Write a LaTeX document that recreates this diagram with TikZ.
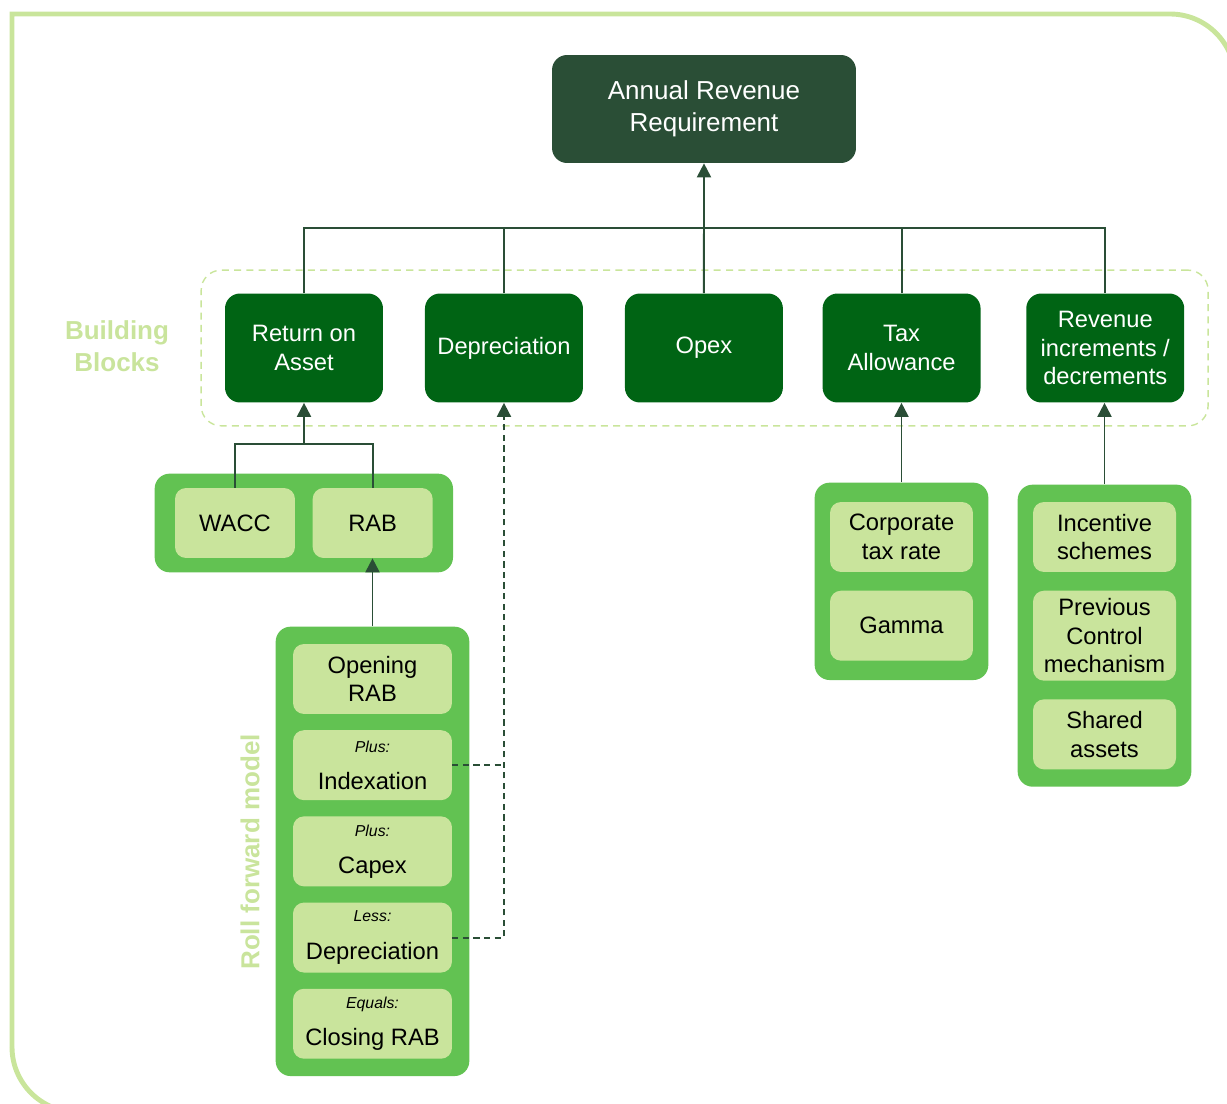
\documentclass[tikz,border=0pt]{standalone}
\usepackage{fontspec}
\setmainfont{Liberation Sans}
\usetikzlibrary{arrows.meta, positioning, fit, backgrounds}

\definecolor{framegreen}{HTML}{C9E59B}
\definecolor{topgreen}{HTML}{2A4E36}
\definecolor{blockgreen}{HTML}{006414}
\definecolor{panelgreen}{HTML}{62C252}
\definecolor{palegreen}{HTML}{C9E49C}
\definecolor{wiregreen}{HTML}{2A4E36}

\newcommand{\boxfont}{\fontsize{13.5}{16.2}\selectfont}
\newcommand{\tagline}[1]{{\fontsize{9}{10}\selectfont\itshape #1}\\[5pt]}

\begin{document}
\begin{tikzpicture}[x=0.02cm, y=-0.02cm, >={Triangle[length=8pt,width=8pt]}, node distance=4cm,
  topbox/.style={fill=topgreen, text=white, rounded corners=0.3cm, minimum width=6.08cm, minimum height=2.16cm, align=center, font=\fontsize{14.8}{18}\selectfont},
  block/.style={fill=blockgreen, text=white, rounded corners=0.3cm, minimum width=3.16cm, minimum height=2.18cm, align=center, font=\boxfont, inner sep=2pt},
  leaf/.style={fill=palegreen, rounded corners=0.22cm, minimum height=1.4cm, align=center, font=\boxfont, inner sep=1pt},
  panel/.style={fill=panelgreen, rounded corners=0.3cm},
  wire/.style={draw=wiregreen, line width=1.1pt},
  dashwire/.style={wire, dash pattern=on 3.5pt off 2.5pt},
  sidetext/.style={text=palegreen, font=\bfseries\fontsize{14.8}{18}\selectfont, align=center}]
  \useasboundingbox (0,0) rectangle (1227,1104);

  % outer frame
  \draw[framegreen, line width=2.8pt] (12,1047) -- (12,14) -- (1170,14) arc[start angle=90, end angle=0, radius=1.3cm] -- (1235,1150);
  \draw[framegreen, line width=2.8pt] (12,1047) arc[start angle=180, end angle=270, radius=1.3cm] -- (1230,1112);

  \node[topbox] (arr) at (704,109) {Annual Revenue\\Requirement};

  % building blocks
  \node[block] (roa) at (304,348) {Return on\\Asset};
  \node[block, right of=roa] (dep) {Depreciation};
  \node[block, right of=dep] (opex) {Opex};
  \node[block, right=0.78cm of opex] (tax) {Tax\\Allowance};
  \node[block, right=0.9cm of tax] (rev) {Revenue\\increments /\\decrements};

  \node[sidetext] (bbl) at (117,346) {Building\\Blocks};
  \node[sidetext, rotate=90] (rfl) at (250,852) {Roll forward model};

  \node[leaf, minimum width=2.4cm] (wacc) at (235,523) {WACC};
  \node[leaf, minimum width=2.4cm, right=0.34cm of wacc] (rab) {RAB};

  % roll forward
  \node[leaf, minimum width=3.18cm] (open) at (372.5,679) {Opening\\RAB};
  \node[leaf, minimum width=3.18cm, below=0.31cm of open] (idx) {\tagline{Plus:}Indexation};
  \node[leaf, minimum width=3.18cm, below=0.31cm of idx] (capex) {\tagline{Plus:}Capex};
  \node[leaf, minimum width=3.18cm, below=0.31cm of capex] (less) {\tagline{Less:}Depreciation};
  \node[leaf, minimum width=3.18cm, below=0.31cm of less] (close) {\tagline{Equals:}Closing RAB};

  \node[leaf, minimum width=2.86cm] (corp) at (901.5,537) {Corporate\\tax rate};
  \node[leaf, minimum width=2.86cm, below=0.36cm of corp] (gamma) {Gamma};

  \node[leaf, minimum width=2.86cm] (inc) at (1104.5,537) {Incentive\\schemes};
  \node[leaf, minimum width=2.86cm, minimum height=1.8cm, below=0.36cm of inc] (prev) {Previous\\Control\\mechanism};
  \node[leaf, minimum width=2.86cm, below=0.36cm of prev] (shared) {Shared\\assets};

  \begin{scope}[on background layer]
    \node[fit=(roa)(rev), draw=framegreen, line width=0.8pt, dash pattern=on 4pt off 3pt, rounded corners=0.4cm, inner xsep=0.47cm, inner ysep=0.46cm] (bb) {};
    \node[panel, fit=(wacc)(rab), inner xsep=0.4cm, inner ysep=0.28cm] (rabpanel) {};
    \node[panel, fit=(open)(close), inner sep=0.34cm] (roll) {};
    \node[panel, fit=(corp)(gamma), inner xsep=0.3cm, inner ysep=0.38cm] (taxpanel) {};
    \node[panel, fit=(inc)(shared), inner xsep=0.3cm, inner ysep=0.34cm] (revpanel) {};
  \end{scope}

  \coordinate (bus) at (704,228);
  \coordinate (join) at (304,444);

  \draw[wire] (roa.north) |- (bus) -| (rev.north);
  \draw[wire] (dep.north) -- (dep.north |- bus);
  \draw[wire] (tax.north) -- (tax.north |- bus);
  \draw[wire, ->] (opex.north) -- (arr.south);

  \draw[wire] (wacc.north) |- (join) -| (rab.north);
  \draw[wire, ->] (join) -- (roa.south);
  \draw[wire, ->] (roll.north) -- (roll.north |- rab.south);

  \draw[dashwire] (idx.east) -- (idx.east -| dep.south);
  \draw[dashwire, ->] (less.east) -| (dep.south);

  \draw[wire, ->] (taxpanel.north) -- (taxpanel.north |- tax.south);
  \draw[wire, ->] (revpanel.north) -- (revpanel.north |- rev.south);
\end{tikzpicture}
\end{document}
